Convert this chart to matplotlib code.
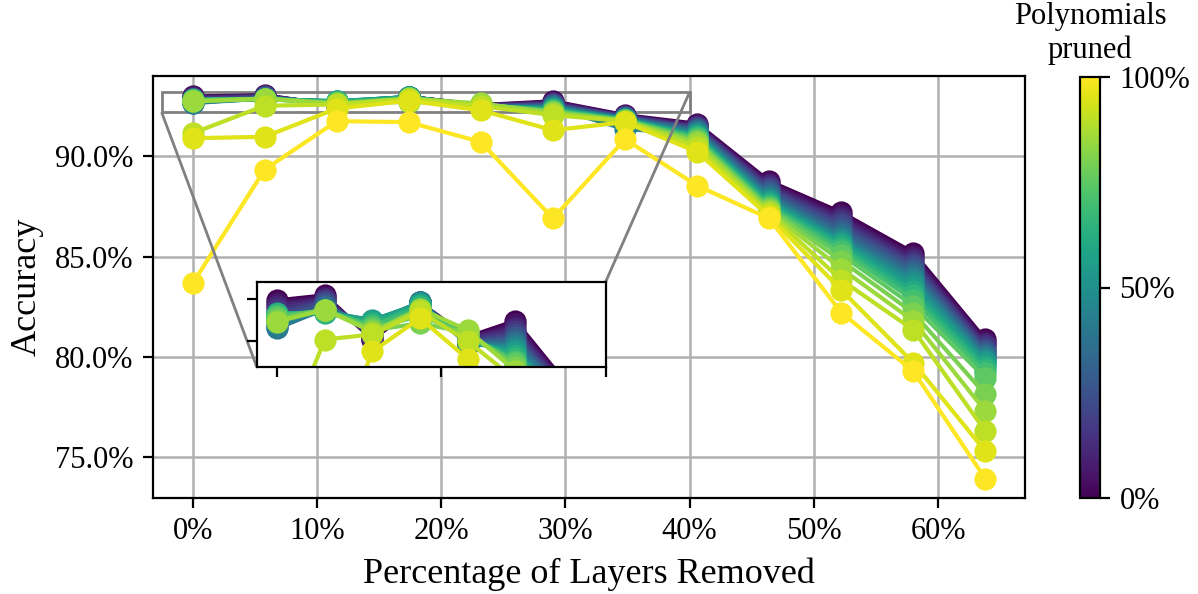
import matplotlib
matplotlib.use("Agg")
import matplotlib.pyplot as plt
from matplotlib.ticker import PercentFormatter, NullFormatter
from matplotlib import cm, colors
from mpl_toolkits.axes_grid1.inset_locator import mark_inset

plt.rcParams['font.family'] = ['Liberation Serif', 'DejaVu Serif']
plt.rcParams['mathtext.fontset'] = 'stix'

# x: percentage of layers removed
layers_removed = [0, 5.8, 11.6, 17.4, 23.2, 29.0, 34.8, 40.6, 46.4, 52.2, 58.0, 63.8]

# fraction of polynomials pruned for each line
pruned = [0.00, 0.05, 0.10, 0.15, 0.20, 0.25, 0.30, 0.35, 0.40, 0.45, 0.50,
          0.55, 0.60, 0.65, 0.70, 0.75, 0.80, 0.85, 0.90, 0.95, 1.00]

acc_p000 = [92.98, 93.04, 92.52, 92.95, 92.55, 92.74, 92.05, 91.62, 88.76, 87.20, 85.20, 80.87]
acc_p005 = [92.95, 93.02, 92.53, 92.95, 92.54, 92.70, 92.03, 91.56, 88.66, 87.05, 85.05, 80.75]
acc_p010 = [92.92, 93.00, 92.55, 92.95, 92.53, 92.66, 92.00, 91.50, 88.56, 86.90, 84.90, 80.63]
acc_p015 = [92.88, 92.98, 92.57, 92.95, 92.52, 92.62, 91.98, 91.45, 88.46, 86.75, 84.75, 80.52]
acc_p020 = [92.83, 92.96, 92.60, 92.96, 92.50, 92.58, 91.96, 91.40, 88.36, 86.60, 84.60, 80.41]
acc_p025 = [92.78, 92.94, 92.62, 92.96, 92.49, 92.55, 91.94, 91.35, 88.26, 86.45, 84.45, 80.30]
acc_p030 = [92.72, 92.92, 92.65, 92.96, 92.48, 92.52, 91.92, 91.30, 88.16, 86.30, 84.30, 80.20]
acc_p035 = [92.67, 92.90, 92.68, 92.96, 92.47, 92.49, 91.90, 91.25, 88.06, 86.15, 84.15, 80.10]
acc_p040 = [92.65, 92.88, 92.70, 92.96, 92.46, 92.46, 91.88, 91.20, 87.97, 86.00, 84.00, 80.00]
acc_p045 = [92.70, 92.86, 92.72, 92.96, 92.47, 92.43, 91.35, 91.15, 87.89, 85.90, 83.85, 79.90]
acc_p050 = [92.75, 92.85, 92.74, 92.95, 92.48, 92.40, 91.85, 91.10, 87.81, 85.80, 83.70, 79.80]
acc_p055 = [92.80, 92.84, 92.75, 92.94, 92.50, 92.37, 91.84, 91.05, 87.73, 85.70, 83.50, 79.68]
acc_p060 = [92.83, 92.83, 92.73, 92.93, 92.52, 92.34, 91.83, 91.00, 87.65, 85.60, 83.30, 79.55]
acc_p065 = [92.82, 92.84, 92.70, 92.91, 92.54, 92.30, 91.82, 90.95, 87.58, 85.45, 83.10, 79.40]
acc_p070 = [92.80, 92.86, 92.68, 92.88, 92.56, 92.27, 91.81, 90.90, 87.50, 85.30, 82.85, 79.20]
acc_p075 = [92.78, 92.87, 92.65, 92.80, 92.58, 92.24, 91.80, 90.82, 87.42, 85.10, 82.55, 78.95]
acc_p080 = [92.75, 92.87, 92.63, 92.71, 92.60, 92.20, 91.78, 90.74, 87.35, 84.80, 82.20, 78.13]
acc_p085 = [92.73, 92.87, 92.61, 92.88, 92.63, 92.15, 91.76, 90.65, 87.25, 84.40, 81.80, 77.30]
acc_p090 = [91.15, 92.52, 92.58, 92.85, 92.50, 92.05, 91.75, 90.45, 87.15, 83.84, 81.35, 76.30]
acc_p095 = [90.90, 90.97, 92.38, 92.77, 92.29, 91.30, 91.70, 90.22, 87.00, 83.34, 79.71, 75.30]
acc_p100 = [83.66, 89.34, 91.75, 91.70, 90.71, 86.90, 90.85, 88.54, 86.90, 82.21, 79.29, 73.93]

series = [acc_p000, acc_p005, acc_p010, acc_p015, acc_p020, acc_p025, acc_p030,
          acc_p035, acc_p040, acc_p045, acc_p050, acc_p055, acc_p060, acc_p065,
          acc_p070, acc_p075, acc_p080, acc_p085, acc_p090, acc_p095, acc_p100]

W, H, DPI = 1198, 594, 200
fig = plt.figure(figsize=(W / DPI, H / DPI), dpi=DPI)

def fx(px):
    return px / W

def fy(py):
    return 1 - py / H

ax = fig.add_axes([fx(153), fy(498), fx(1025) - fx(153), fy(76) - fy(498)])
cmap = plt.get_cmap('viridis')
norm = colors.Normalize(0, 1)

def draw(a):
    for p, acc in zip(pruned, series):
        a.plot(layers_removed, acc, '-o', color=cmap(norm(p)), lw=1.5, ms=7)

draw(ax)
ax.set_xlim(-3.19, 66.99)
ax.set_ylim(72.97, 94.0)
ax.set_xticks([0, 10, 20, 30, 40, 50, 60])
ax.set_yticks([75, 80, 85, 90])
ax.xaxis.set_major_formatter(PercentFormatter(100, decimals=0))
ax.yaxis.set_major_formatter(PercentFormatter(100, decimals=1))
ax.grid(True, color='#b0b0b0', lw=0.9)
ax.set_axisbelow(True)
ax.tick_params(labelsize=11)
ax.set_xlabel('Percentage of Layers Removed', fontsize=13)
ax.set_ylabel('Accuracy', fontsize=13)

# inset
axins = fig.add_axes([fx(256.7), fy(366.7), fx(605.7) - fx(256.7), fy(281.7) - fy(366.7)])
draw(axins)
axins.set_xlim(-2.5, 40)
axins.set_ylim(92.2, 93.2)
axins.set_xticks([0, 20, 40])
axins.set_yticks([92.5, 93.0])
axins.xaxis.set_major_formatter(NullFormatter())
axins.yaxis.set_major_formatter(NullFormatter())
mark_inset(ax, axins, loc1=1, loc2=3, fc='none', ec='0.5', lw=1.0)

# colorbar
cax = fig.add_axes([fx(1080), fy(498), fx(1100) - fx(1080), fy(77) - fy(498)])
sm = cm.ScalarMappable(norm=norm, cmap=cmap)
cb = fig.colorbar(sm, cax=cax, ticks=[0, 0.5, 1.0])
cb.ax.yaxis.set_major_formatter(PercentFormatter(1, decimals=0))
cb.ax.tick_params(labelsize=11)
cax.set_title('Polynomials\npruned', fontsize=11, pad=7)

fig.savefig('out.png', dpi=DPI)
